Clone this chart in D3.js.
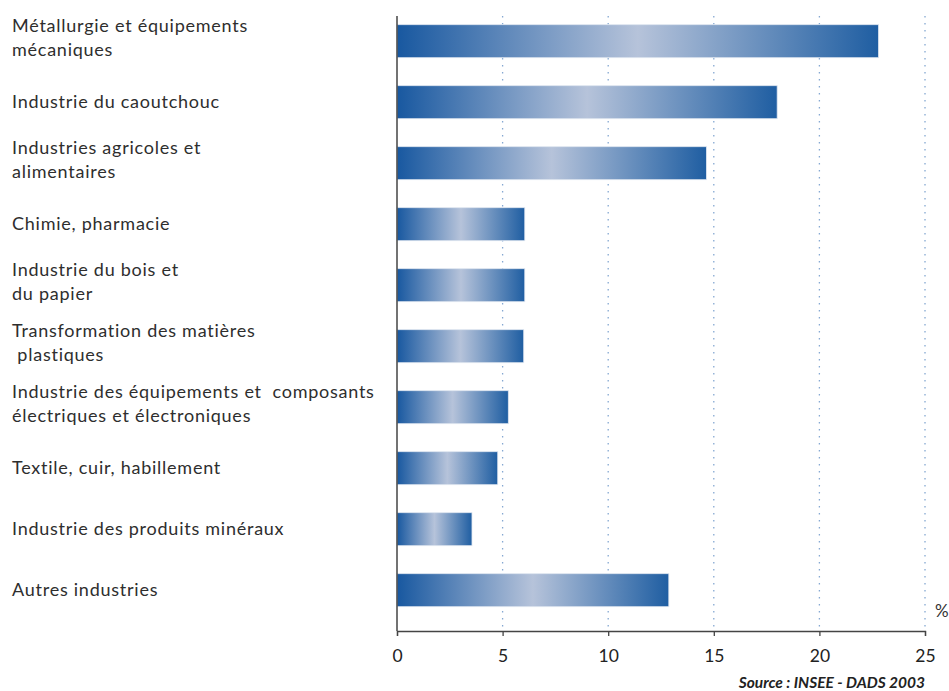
<!DOCTYPE html>
<html><head><meta charset="utf-8">
<script src="https://cdn.jsdelivr.net/npm/d3@7"></script>
<style>body{margin:0;background:#fff}svg{display:block}text{font-family:Lato,"Open Sans",sans-serif}</style>
</head><body><svg id="c" width="949" height="691"></svg>
<script>
const categories = [
  ["Métallurgie et équipements","mécaniques"],
  ["Industrie du caoutchouc"],
  ["Industries agricoles et","alimentaires"],
  ["Chimie, pharmacie"],
  ["Industrie du bois et","du papier"],
  ["Transformation des matières"," plastiques"],
  ["Industrie des équipements et  composants","électriques et électroniques"],
  ["Textile, cuir, habillement"],
  ["Industrie des produits minéraux"],
  ["Autres industries"]
];
const values = [22.8, 18.0, 14.65, 6.05, 6.05, 6.0, 5.27, 4.77, 3.55, 12.87];
const xTicks = [0, 5, 10, 15, 20, 25];
const unitLabel = "%";
const sourceText = "Source : INSEE - DADS 2003";

const svg = d3.select("#c");
const x0 = 397, x1 = 925, yTop = 16, yAxis = 631;
const x = d3.scaleLinear().domain([0, 25]).range([x0, x1]);
const ids = categories.map((c,i)=>i);
const y = d3.scaleBand().domain(ids).range([10.7, 620.7]).paddingInner(0.459).paddingOuter(0.2295);

const defs = svg.append("defs");
const g = defs.append("linearGradient").attr("id","bg").attr("x1","0").attr("x2","1").attr("y1","0").attr("y2","0");
g.append("stop").attr("offset","0").attr("stop-color","#1858a0");
g.append("stop").attr("offset","0.5").attr("stop-color","#b6c3da");
g.append("stop").attr("offset","1").attr("stop-color","#1f5ea2");

// gridlines
svg.append("g").selectAll("line").data(xTicks.filter(d=>d>0)).join("line")
  .attr("x1",d=>x(d)).attr("x2",d=>x(d)).attr("y1",yTop).attr("y2",yAxis)
  .attr("stroke","#85a8d2").attr("stroke-width",1.3).attr("stroke-dasharray","1.5,5.5");

// bars
svg.append("g").selectAll("rect").data(values).join("rect")
  .attr("x", x(0)).attr("y", (d,i)=>y(i)).attr("width", d=>x(d)-x(0)).attr("height", y.bandwidth())
  .attr("fill","url(#bg)").attr("stroke","#dfe6f0").attr("stroke-width",0.8);

// axes
const ax = svg.append("g").attr("transform",`translate(0,${yAxis})`)
  .call(d3.axisBottom(x).tickValues(xTicks).tickSize(5).tickPadding(14).tickFormat(d3.format("d")));
ax.select(".domain").attr("stroke","#444").attr("stroke-width",1.3);
ax.selectAll(".tick line").attr("stroke","#444").attr("stroke-width",1.3);
ax.selectAll(".tick text").attr("font-size",17.5).attr("fill","#222").style("font-family","Lato,sans-serif");
svg.append("line").attr("x1",x0).attr("x2",x0).attr("y1",yTop).attr("y2",yAxis).attr("stroke","#444").attr("stroke-width",1.5);

// category labels
const lab = svg.append("g").selectAll("text").data(categories).join("text")
  .attr("x",12).attr("font-size",18).attr("letter-spacing",0.75).attr("fill","#2e2e2e").attr("xml:space","preserve").style("white-space","pre");
lab.each(function(lines,i){
  const t = d3.select(this);
  const cy = y(i) + y.bandwidth()/2;
  const lh = 24;
  const start = lines.length===1 ? cy + 6 : cy - 3 - lh/2 + 6;
  lines.forEach((ln,k)=>t.append("tspan").attr("x",12).attr("y",start + k*lh).text(ln));
});

svg.append("text").attr("x",935).attr("y",617).attr("font-size",17).attr("fill","#333").text(unitLabel);
svg.append("text").attr("x",925).attr("y",688).attr("text-anchor","end").attr("font-size",15.5)
  .attr("font-weight","bold").attr("font-style","italic").attr("fill","#222").text(sourceText);
</script></body></html>
